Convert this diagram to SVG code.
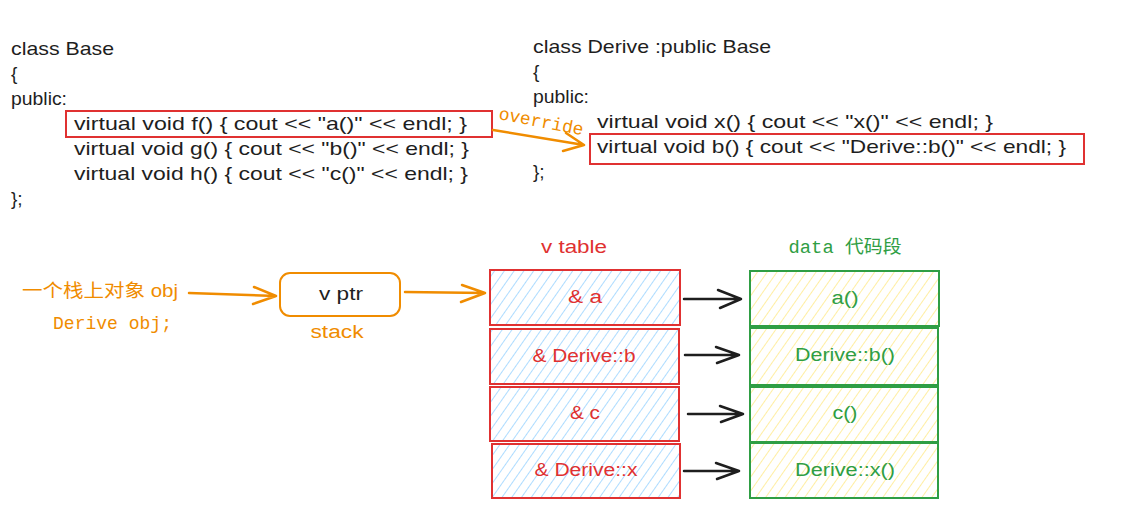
<svg xmlns="http://www.w3.org/2000/svg" width="1139" height="509" viewBox="0 0 1139 509">
<style>
.code{font-family:"Liberation Sans",Arial,sans-serif;font-size:19px;fill:#1e1e1e}
.lbl{font-family:"Liberation Sans","Noto Sans CJK SC",sans-serif;font-size:18px}
.mono{font-family:"Liberation Mono","Noto Sans CJK SC",monospace;font-size:18px}
.red{fill:#e03131}.green{fill:#2f9e44}.orange{fill:#f08c00}
.rbox{fill:url(#hb);stroke:#e03131;stroke-width:2}
.gbox{fill:url(#hy);stroke:#2f9e44;stroke-width:2}
.hl{fill:none;stroke:#e03131;stroke-width:2}
.oa{fill:none;stroke:#f08c00;stroke-width:2.5;stroke-linecap:round;stroke-linejoin:round}
.ba{fill:none;stroke:#1e1e1e;stroke-width:2.5;stroke-linecap:round;stroke-linejoin:round}
</style>
<defs>
<pattern id="hb" width="8" height="8" patternUnits="userSpaceOnUse" patternTransform="rotate(35)">
<line x1="0" y1="0" x2="0" y2="8" stroke="#a5d8ff" stroke-width="1.8"/>
</pattern>
<pattern id="hy" width="8" height="8" patternUnits="userSpaceOnUse" patternTransform="rotate(35)">
<line x1="0" y1="0" x2="0" y2="8" stroke="#ffec99" stroke-width="1.8"/>
</pattern>
</defs>
<rect width="1139" height="509" fill="#ffffff"/>

<g id="base-code">
<text class="code" x="11" y="55" textLength="103" lengthAdjust="spacingAndGlyphs">class Base</text>
<text class="code" x="11" y="80">{</text>
<text class="code" x="11" y="105" textLength="56" lengthAdjust="spacingAndGlyphs">public:</text>
<rect class="hl" x="66" y="111" width="426" height="26"/>
<text class="code" x="74" y="130" textLength="393" lengthAdjust="spacingAndGlyphs">virtual void f() { cout &lt;&lt; "a()" &lt;&lt; endl; }</text>
<text class="code" x="74" y="155" textLength="395" lengthAdjust="spacingAndGlyphs">virtual void g() { cout &lt;&lt; "b()" &lt;&lt; endl; }</text>
<text class="code" x="74" y="180" textLength="394" lengthAdjust="spacingAndGlyphs">virtual void h() { cout &lt;&lt; "c()" &lt;&lt; endl; }</text>
<text class="code" x="11" y="205">};</text>
</g>

<g id="derive-code">
<text class="code" x="533" y="53" textLength="238" lengthAdjust="spacingAndGlyphs">class Derive :public Base</text>
<text class="code" x="533" y="78">{</text>
<text class="code" x="533" y="103" textLength="56" lengthAdjust="spacingAndGlyphs">public:</text>
<text class="code" x="597" y="128" textLength="396" lengthAdjust="spacingAndGlyphs">virtual void x() { cout &lt;&lt; "x()" &lt;&lt; endl; }</text>
<rect class="hl" x="590" y="134" width="494" height="30"/>
<text class="code" x="597" y="153" textLength="469" lengthAdjust="spacingAndGlyphs">virtual void b() { cout &lt;&lt; "Derive::b()" &lt;&lt; endl; }</text>
<text class="code" x="533" y="178">};</text>
</g>

<g id="obj-label">
<text class="lbl orange" x="22" y="297" textLength="156" lengthAdjust="spacingAndGlyphs">一个栈上对象 obj</text>
<text class="mono orange" x="53" y="329" textLength="119" lengthAdjust="spacingAndGlyphs">Derive obj;</text>
</g>

<g id="vptr">
<rect x="280" y="273" width="120" height="43" rx="10" fill="none" stroke="#f08c00" stroke-width="2"/>
<text class="lbl" x="341" y="300" text-anchor="middle" fill="#1e1e1e" textLength="44" lengthAdjust="spacingAndGlyphs">v ptr</text>
<text class="lbl orange" x="337" y="338" text-anchor="middle" textLength="53" lengthAdjust="spacingAndGlyphs">stack</text>
</g>

<g id="vtable">
<text class="lbl red" x="574" y="253" text-anchor="middle" textLength="66" lengthAdjust="spacingAndGlyphs">v table</text>
<g id="vt-a"><rect class="rbox" x="490" y="270" width="190" height="55"/><text class="lbl red" x="585" y="303" text-anchor="middle" textLength="34" lengthAdjust="spacingAndGlyphs">&amp; a</text></g>
<g id="vt-b"><rect class="rbox" x="490" y="329" width="189" height="55"/><text class="lbl red" x="584" y="362" text-anchor="middle" textLength="103" lengthAdjust="spacingAndGlyphs">&amp; Derive::b</text></g>
<g id="vt-c"><rect class="rbox" x="490" y="387" width="189" height="54"/><text class="lbl red" x="585" y="419" text-anchor="middle" textLength="30" lengthAdjust="spacingAndGlyphs">&amp; c</text></g>
<g id="vt-x"><rect class="rbox" x="492" y="444" width="188" height="54"/><text class="lbl red" x="586" y="476" text-anchor="middle" textLength="103" lengthAdjust="spacingAndGlyphs">&amp; Derive::x</text></g>
</g>

<g id="data">
<text class="mono green" x="845" y="253" text-anchor="middle" textLength="113" lengthAdjust="spacingAndGlyphs">data 代码段</text>
<g id="d-a"><rect class="gbox" x="750" y="271" width="189" height="55"/><text class="lbl green" x="845" y="304" text-anchor="middle" textLength="27" lengthAdjust="spacingAndGlyphs">a()</text></g>
<g id="d-b"><rect class="gbox" x="750" y="328" width="188" height="57"/><text class="lbl green" x="845" y="361" text-anchor="middle" textLength="100" lengthAdjust="spacingAndGlyphs">Derive::b()</text></g>
<g id="d-c"><rect class="gbox" x="750" y="387" width="188" height="55"/><text class="lbl green" x="845" y="419" text-anchor="middle" textLength="25" lengthAdjust="spacingAndGlyphs">c()</text></g>
<g id="d-x"><rect class="gbox" x="750" y="443" width="188" height="55"/><text class="lbl green" x="845" y="476" text-anchor="middle" textLength="100" lengthAdjust="spacingAndGlyphs">Derive::x()</text></g>
</g>

<g id="connectors">
<path class="oa" d="M493 130 L584 145 M566 133 L584 145 L563 151"/>
<text class="mono orange" x="498" y="119" transform="rotate(11 498 119)" textLength="86" lengthAdjust="spacingAndGlyphs">override</text>
<path class="oa" d="M189 293 L276 296 M254 287 L276 296 L253 304"/>
<path class="oa" d="M405 292 L485 293 M462 285 L485 293 L461 302"/>
<path class="ba" d="M684 299 L741 299 M718 290 L741 299 L720 308"/>
<path class="ba" d="M685 355 L739 355 M716 347 L739 355 L717 363"/>
<path class="ba" d="M688 414 L743 414 M720 406 L743 414 L721 422"/>
<path class="ba" d="M684 471 L739 471 M716 463 L739 471 L717 479"/>
</g>
</svg>
